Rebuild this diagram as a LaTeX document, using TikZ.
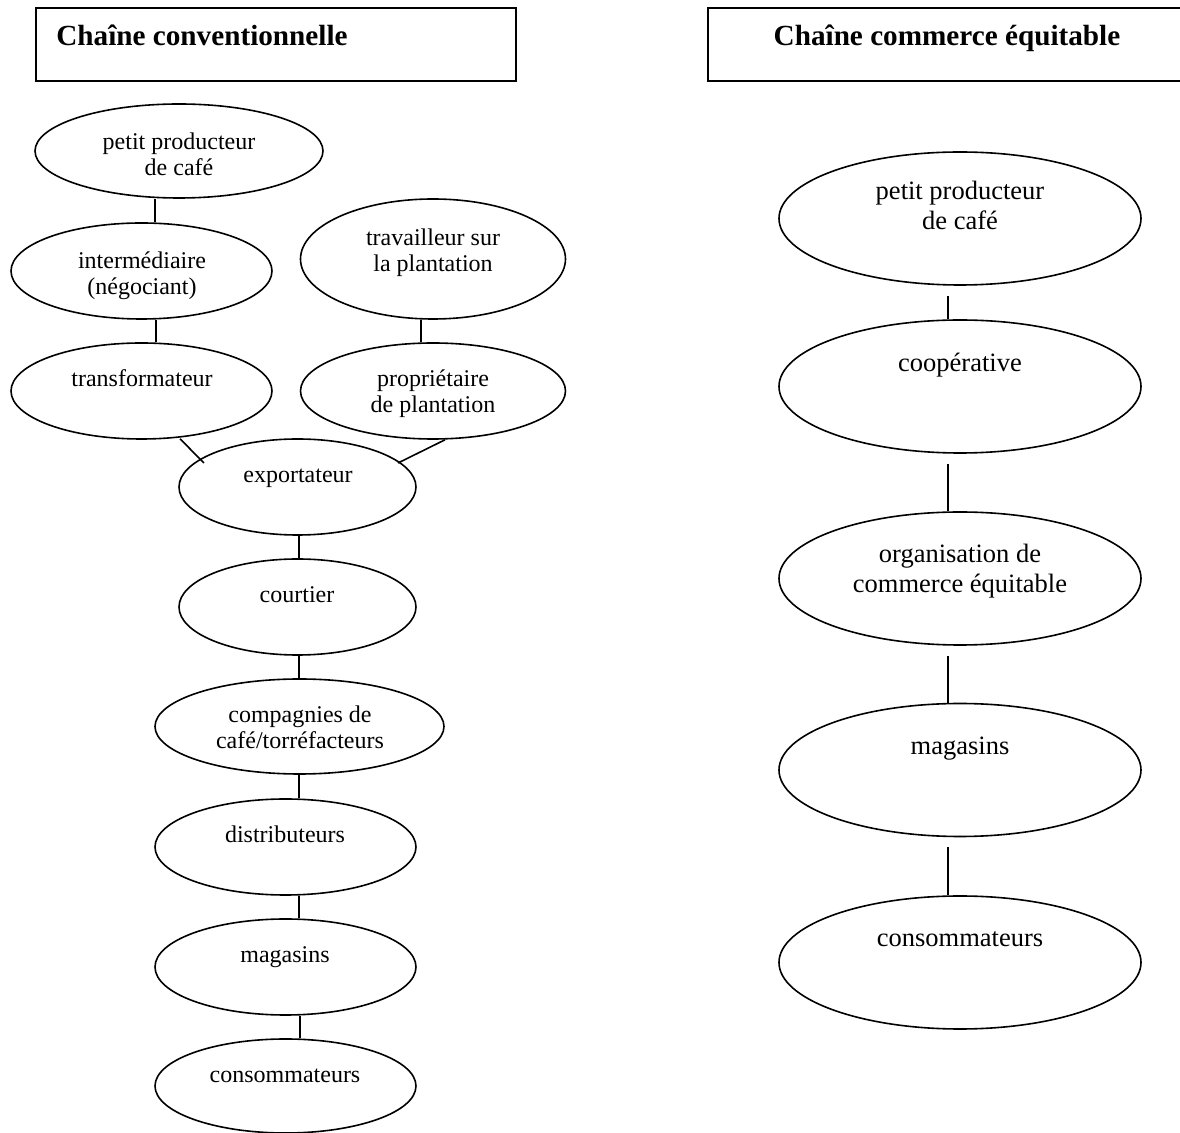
\documentclass[tikz,border=0pt]{standalone}
\usepackage{fontspec}
\setmainfont{Liberation Serif}
\usetikzlibrary{shapes.geometric,calc}
\newcommand{\twol}[2]{\begin{tabular}[b]{@{}c@{}}#1\\#2\end{tabular}}
\begin{document}
\begin{tikzpicture}[x=0.5pt,y=-0.5pt,
  ell/.style={draw,ellipse,line width=0.8pt,inner sep=0pt},
  esz/.style 2 args={minimum width=#1*0.5pt,minimum height=#2*0.5pt},
  lt/.style={anchor=base,inner sep=0pt,font=\fontsize{12}{13}\selectfont},
  rt/.style={anchor=base,inner sep=0pt,font=\fontsize{13.25}{15}\selectfont},
  conn/.style={line width=0.8pt},
  tbox/.style={draw,line width=1pt,inner sep=0pt},
  ttl/.style={inner sep=0pt,font=\fontsize{14.6}{16}\selectfont\bfseries}]
\useasboundingbox (0,0) rectangle (1180,1133);

% title boxes (the right one runs past the page edge, as in the reference)
\node[tbox,minimum width=240pt,minimum height=36.5pt] (B1) at (276,44.5) {};
\node[tbox,minimum width=240pt,minimum height=36.5pt] (B2) at (948,44.5) {};
\node[ttl,anchor=base west] (T1) at (56,46) {Chaîne conventionnelle};
\node[ttl,anchor=base] (T2) at (947,46) {Chaîne commerce équitable};

% left chain ellipses
\node[ell,esz={288}{94}] (L1) at (179,151) {};
\node[ell,esz={261}{96}] (L2) at (141.5,271) {};
\node[ell,esz={265}{120}] (L3) at (433,259) {};
\node[ell,esz={261}{96}] (L4) at (141.5,391) {};
\node[ell,esz={265}{96}] (L5) at (433,391) {};
\node[ell,esz={237}{96}] (L6) at (297.5,487) {};
\node[ell,esz={237}{96}] (L7) at (297.5,607) {};
\node[ell,esz={289}{95}] (L8) at (299.5,726.5) {};
\node[ell,esz={261}{96}] (L9) at (285.5,847) {};
\node[ell,esz={261}{96}] (L10) at (285.5,967) {};
\node[ell,esz={261}{94}] (L11) at (285.5,1086) {};

% left texts
\node[lt] (t1) at (179,176) {\twol{petit producteur}{de café}};
\node[lt] (t2) at (142,295) {\twol{intermédiaire}{(négociant)}};
\node[lt] (t3) at (433,272) {\twol{travailleur sur}{la plantation}};
\node[lt] (t4) at (142,387) {transformateur};
\node[lt] (t5) at (433,413) {\twol{propriétaire}{de plantation}};
\node[lt] (t6) at (298,483) {exportateur};
\node[lt] (t7) at (297,603) {courtier};
\node[lt] (t8) at (300,749) {\twol{compagnies de}{café/torréfacteurs}};
\node[lt] (t9) at (285,843) {distributeurs};
\node[lt] (t10) at (285,963) {magasins};
\node[lt] (t11) at (285,1083) {consommateurs};

% left connectors
\draw[conn] ($(L1.south)+(-24,0)$) -- ($(L2.north)+(13.5,0)$);
\draw[conn] ($(L2.south)+(14.5,0)$) -- ($(L4.north)+(14.5,0)$);
\draw[conn] ($(L3.south)+(-12,0)$) -- ($(L5.north)+(-12,0)$);
\draw[conn] ($(L4.south)+(38.5,-1)$) -- ($(L6.center)+(-93.5,-24)$);
\draw[conn] ($(L5.south)+(12,0)$) -- ($(L6.center)+(100.5,-24)$);
\draw[conn] ($(L6.south)+(1.5,0)$) -- ($(L7.north)+(1.5,0)$);
\draw[conn] ($(L7.south)+(1.5,0)$) -- ($(L8.north)+(-0.5,0)$);
\draw[conn] ($(L8.south)+(-0.5,0)$) -- ($(L9.north)+(13.5,0)$);
\draw[conn] ($(L9.south)+(13.5,0)$) -- ($(L10.north)+(13.5,0)$);
\draw[conn] ($(L10.south)+(14.5,0)$) -- ($(L11.north)+(14.5,0)$);

% right chain ellipses
\node[ell,esz={362}{133}] (R1) at (960,218.5) {};
\node[ell,esz={362}{133}] (R2) at (960,386.5) {};
\node[ell,esz={362}{133}] (R3) at (960,578.5) {};
\node[ell,esz={362}{133}] (R4) at (960,770) {};
\node[ell,esz={362}{133}] (R5) at (960,962.5) {};

% right texts
\node[rt] (r1) at (960,230) {\twol{petit producteur}{de café}};
\node[rt] (r2) at (960,372) {coopérative};
\node[rt] (r3) at (960,593) {\twol{organisation de}{commerce équitable}};
\node[rt] (r4) at (960,755) {magasins};
\node[rt] (r5) at (960,947) {consommateurs};

% right connectors
\draw[conn] ($(R1.south)+(-12,10)$) -- ($(R2.north)+(-12,0)$);
\draw[conn] ($(R2.south)+(-12,10)$) -- ($(R3.north)+(-12,0)$);
\draw[conn] ($(R3.south)+(-12,10)$) -- ($(R4.north)+(-12,0)$);
\draw[conn] ($(R4.south)+(-12,10)$) -- ($(R5.north)+(-12,0)$);
\end{tikzpicture}
\end{document}
